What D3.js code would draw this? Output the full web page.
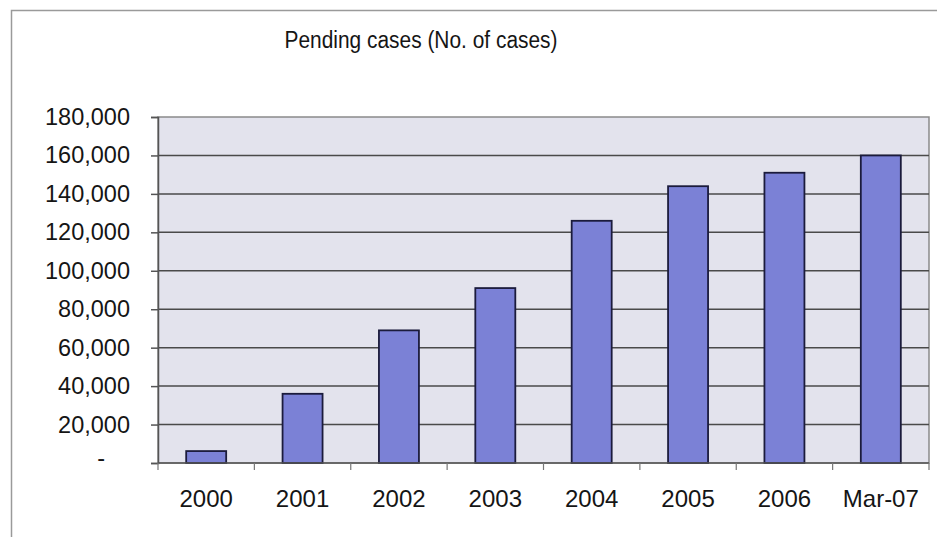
<!DOCTYPE html>
<html>
<head>
<meta charset="utf-8">
<script src="https://cdn.jsdelivr.net/npm/d3@7"></script>
<style>
  body { margin: 0; background: #fff; }
  svg { display: block; font-family: "Liberation Sans", Arial, sans-serif; }
</style>
</head>
<body>
<div id="chart"></div>
<script>
// Pending cases
const periods = ['2000', '2001', '2002', '2003', '2004', '2005', '2006', 'Mar-07'];
const pending = [6200, 36000, 69000, 91000, 126000, 144000, 151000, 160000];
const yTicks = [0, 20000, 40000, 60000, 80000, 100000, 120000, 140000, 160000, 180000];
const chartTitle = 'Pending cases (No. of cases)';

const width = 937;
const height = 537;
const plot = { left: 158, right: 929, top: 117, bottom: 463 };

const svg = d3.select('#chart')
  .append('svg')
  .attr('width', width)
  .attr('height', height);

// outer chart frame (right/bottom run off the page)
svg.append('rect')
  .attr('x', 11.5)
  .attr('y', 10.5)
  .attr('width', 940)
  .attr('height', 540)
  .style('fill', 'none')
  .style('stroke', '#9a9a9a')
  .style('stroke-width', 1.5);

// title is a bit narrow and tall in the scan, so squeeze it
svg.append('text')
  .attr('x', 421)
  .attr('y', 48)
  .attr('text-anchor', 'middle')
  .attr('textLength', 273)
  .attr('lengthAdjust', 'spacingAndGlyphs')
  .style('font-size', '23px')
  .style('fill', '#151515')
  .text(chartTitle);

const x = d3.scaleBand()
  .domain(periods)
  .range([plot.left, plot.right])
  .paddingInner(0.585)
  .paddingOuter(0.2925);

const y = d3.scaleLinear()
  .domain([0, 180000])
  .range([plot.bottom, plot.top]);

// plot background
svg.append('rect')
  .attr('x', plot.left)
  .attr('y', plot.top)
  .attr('width', plot.right - plot.left)
  .attr('height', plot.bottom - plot.top)
  .style('fill', '#e3e3ed')
  .style('stroke', '#8a8a8a')
  .style('stroke-width', 1.5);

// gridlines
svg.append('g')
  .selectAll('line')
  .data(yTicks.filter((d) => d > 0 && d < 180000))
  .enter()
  .append('line')
  .attr('x1', plot.left)
  .attr('x2', plot.right)
  .attr('y1', (d) => y(d))
  .attr('y2', (d) => y(d))
  .style('stroke', '#4a4a4a')
  .style('stroke-width', 1.5);

// bars
svg.append('g')
  .selectAll('rect')
  .data(periods)
  .enter()
  .append('rect')
  .attr('x', (d) => x(d))
  .attr('y', (d, i) => y(pending[i]))
  .attr('width', x.bandwidth())
  .attr('height', (d, i) => y(0) - y(pending[i]))
  .style('fill', '#7b81d6')
  .style('stroke', '#1b1b3c')
  .style('stroke-width', 1.8);

// y axis
const yAxis = d3.axisLeft(y)
  .tickValues(yTicks)
  .tickSize(7)
  .tickPadding(21)
  .tickFormat((d) => (d === 0 ? '-' : d3.format(',')(d)));

const yG = svg.append('g')
  .attr('transform', `translate(${plot.left},0)`)
  .call(yAxis);
yG.select('.domain').style('stroke', '#555').style('stroke-width', 1.5);
yG.selectAll('.tick line').style('stroke', '#555').style('stroke-width', 1.5);
yG.selectAll('.tick text')
  .style('font-size', '23.5px')
  .style('fill', '#151515')
  .style('font-family', '"Liberation Sans", Arial, sans-serif');

// accounting-style dash for zero sits further left
yG.selectAll('.tick text')
  .filter((d) => d === 0)
  .attr('dx', -25)
  .attr('dy', '0.1em');

// x axis: ticks sit between categories
const xAxisG = svg.append('g')
  .attr('transform', `translate(0,${plot.bottom})`);
xAxisG.append('line')
  .attr('x1', plot.left)
  .attr('x2', plot.right)
  .style('stroke', '#555')
  .style('stroke-width', 1.5);

xAxisG.selectAll('line.tick')
  .data(d3.range(periods.length + 1))
  .enter()
  .append('line')
  .attr('class', 'tick')
  .attr('x1', (i) => plot.left + i * x.step())
  .attr('x2', (i) => plot.left + i * x.step())
  .attr('y1', 0)
  .attr('y2', 7)
  .style('stroke', '#777')
  .style('stroke-width', 1.2);

xAxisG.selectAll('text')
  .data(periods)
  .enter()
  .append('text')
  .attr('x', (d) => x(d) + x.bandwidth() / 2)
  .attr('y', 44)
  .attr('text-anchor', 'middle')
  .style('font-size', '24px')
  .style('fill', '#151515')
  .text((d) => d);
</script>
</body>
</html>
